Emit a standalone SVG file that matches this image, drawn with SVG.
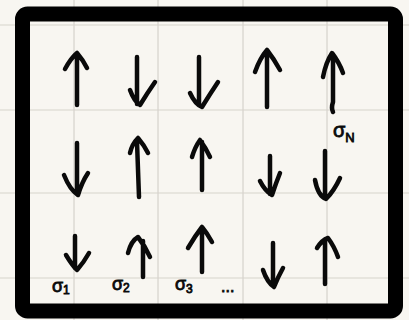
<svg xmlns="http://www.w3.org/2000/svg" width="409" height="320" viewBox="0 0 409 320">
<style>
.grid{stroke:#d6d3cc;stroke-width:1.2;fill:none}
.arr{stroke:#0a0a0a;stroke-width:4.5;fill:none;stroke-linecap:round;stroke-linejoin:round}
.lbl{font-family:"Liberation Sans",Arial,sans-serif;fill:#0a0a0a;stroke:#0a0a0a;stroke-width:0.8}
</style>
<rect x="0" y="0" width="409" height="320" fill="#f8f6f1"/>
<g id="grid">
<path class="grid" d="M74 0V320M158 0V320M243 0V320M327 0V320M0 25H409M0 110H409M0 193H409M0 278H409"/>
</g>
<rect id="frame" x="22.5" y="14" width="373" height="297" rx="5" fill="none" stroke="#000" stroke-width="15"/>
<g id="row1">
<path class="arr" d="M77 105V54M65 69Q71 58 77 53Q83 60 87 68"/>
<path class="arr" d="M137 57V104M130 90Q134 101 140 105Q148 92 155 82"/>
<path class="arr" d="M199 57V105M190 93Q195 104 202 107Q210 94 218 82"/>
<path class="arr" d="M267 107V52M255 72Q260 58 267 50Q274 59 280 70"/>
<path class="arr" d="M333 112Q331 108 333 102V56M323 77Q326 62 332 53Q339 62 343 73"/>
</g>
<g id="row2">
<path class="arr" d="M77 143V193M64 175Q70 190 78 195Q82 182 88 173"/>
<path class="arr" d="M139 197Q138 170 137 142M130 153Q132 144 138 138Q144 145 148 153"/>
<path class="arr" d="M202 190V142M192 157Q195 147 200 140Q206 148 210 157"/>
<path class="arr" d="M270 156V194M260 181Q265 191 272 195Q276 183 280 173"/>
<path class="arr" d="M325 151V196M315 180Q318 196 326 199Q334 191 340 178"/>
</g>
<g id="row3">
<path class="arr" d="M75 236V268M66 255Q72 265 77 270Q84 262 89 253"/>
<path class="arr" d="M143 277V241M128 253Q131 241 138 237Q145 246 150 257"/>
<path class="arr" d="M202 272V229M188 248Q195 236 202 227Q207 233 212 242"/>
<path class="arr" d="M273 243V286M263 270Q267 282 274 287Q278 277 283 268"/>
<path class="arr" d="M325 284V241M317 248Q322 240 328 238Q334 246 338 257"/>
</g>
<g id="labels">
<text class="lbl" x="52" y="292" font-size="18">σ<tspan font-size="12" dy="2">1</tspan></text>
<text class="lbl" x="112" y="290" font-size="18">σ<tspan font-size="12" dy="2">2</tspan></text>
<text class="lbl" x="175" y="290" font-size="18">σ<tspan font-size="12" dy="3">3</tspan></text>
<text class="lbl" x="221" y="292" font-size="16">...</text>
<text class="lbl" x="333" y="137" font-size="20">σ<tspan font-size="13" dy="5">N</tspan></text>
</g>
</svg>
